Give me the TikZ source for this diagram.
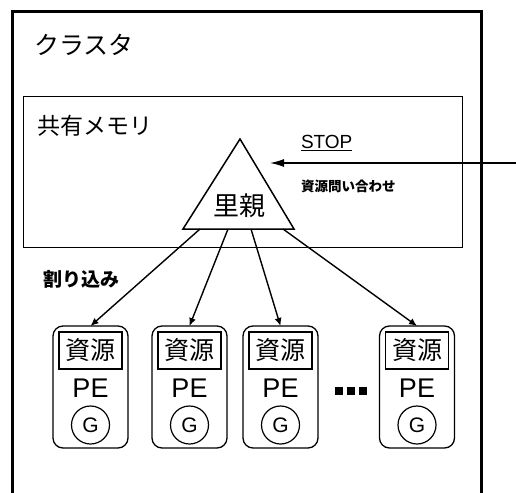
\documentclass[tikz,border=0pt]{standalone}
\usepackage{fontspec}
\setmainfont{Liberation Sans}
\newfontfamily\jp{Noto Sans CJK JP}
\usetikzlibrary{arrows.meta}
\begin{document}
\begin{tikzpicture}[x=1pt,y=-1pt,
  every node/.style={inner sep=0pt, outer sep=0pt},
  arr/.style={line width=1.4pt, -{Latex[length=8pt,width=7pt]}},
  pebox/.style={draw, line width=1.3pt, rounded corners=10pt, minimum width=75pt, minimum height=122pt},
  resbox/.style={draw, line width=1.3pt, minimum width=63pt, minimum height=37pt, font=\jp\fontsize{25}{25}\selectfont},
  petext/.style={font=\fontsize{27}{27}\selectfont},
  gcirc/.style={draw, circle, line width=1.2pt, minimum size=38pt, font=\fontsize{21}{21}\selectfont},
  sqdot/.style={fill, minimum size=8pt},
  jlabel/.style={anchor=west, font=\jp\fontsize{23}{23}\selectfont}
]
\useasboundingbox (0,0) rectangle (516,492);
\fill[white] (0,0) rectangle (516,492);
% cluster box (runs off the bottom)
\draw[line width=3pt] (12,12) rectangle (481,520);
% shared memory box
\draw[line width=1pt] (23,97) rectangle (462,247);
\node[jlabel, font=\jp\fontsize{25}{25}\selectfont] (cluster) at (34,45) {クラスタ};
\node[jlabel] (shm) at (37,126) {共有メモリ};
% foster parent triangle
\draw[line width=1.5pt, line join=miter] (240,139) -- (294,229) -- (183,229) -- cycle;
\coordinate (b1) at (200,229);
\coordinate (b2) at (228,229);
\coordinate (b3) at (251,229);
\coordinate (b4) at (283,229);
\node[font=\jp\fontsize{26}{26}\selectfont] (sato) at (239,206) {里親};
% STOP input
\node[anchor=west, font=\fontsize{19}{19}\selectfont] (stop) at (301,143) {\underline{STOP}};
\coordinate (src) at (516,163);
\coordinate (tip) at (270,163);
\draw[line width=1.3pt, -{Latex[length=14pt,width=8pt]}] (src) -- (tip);
\node[anchor=west, font=\jp\bfseries\fontsize{13.5}{13.5}\selectfont] (query) at (301,186) {資源問い合わせ};
\node[anchor=west, font=\jp\bfseries\fontsize{19}{19}\selectfont] (intr) at (43,279) {割り込み};
% PEs
\foreach \i/\cx in {1/90.5, 2/189.5, 3/280.5, 4/417} {
  \node[pebox] (pe\i) at (\cx,387) {};
  \node[resbox] (res\i) at (\cx,350.5) {資源};
  \node[petext] (pet\i) at (\cx,388) {PE};
  \node[gcirc] (g\i) at (\cx,425) {G};
}
\draw[arr] (b1) -- (pe1.north);
\draw[arr] (b2) -- (pe2.north);
\draw[arr] (b3) -- (pe3.north);
\draw[arr] (b4) -- (pe4.north);
% dots
\node[sqdot] (d1) at (339,391) {};
\node[sqdot] (d2) at (351,391) {};
\node[sqdot] (d3) at (363,391) {};
\end{tikzpicture}
\end{document}
